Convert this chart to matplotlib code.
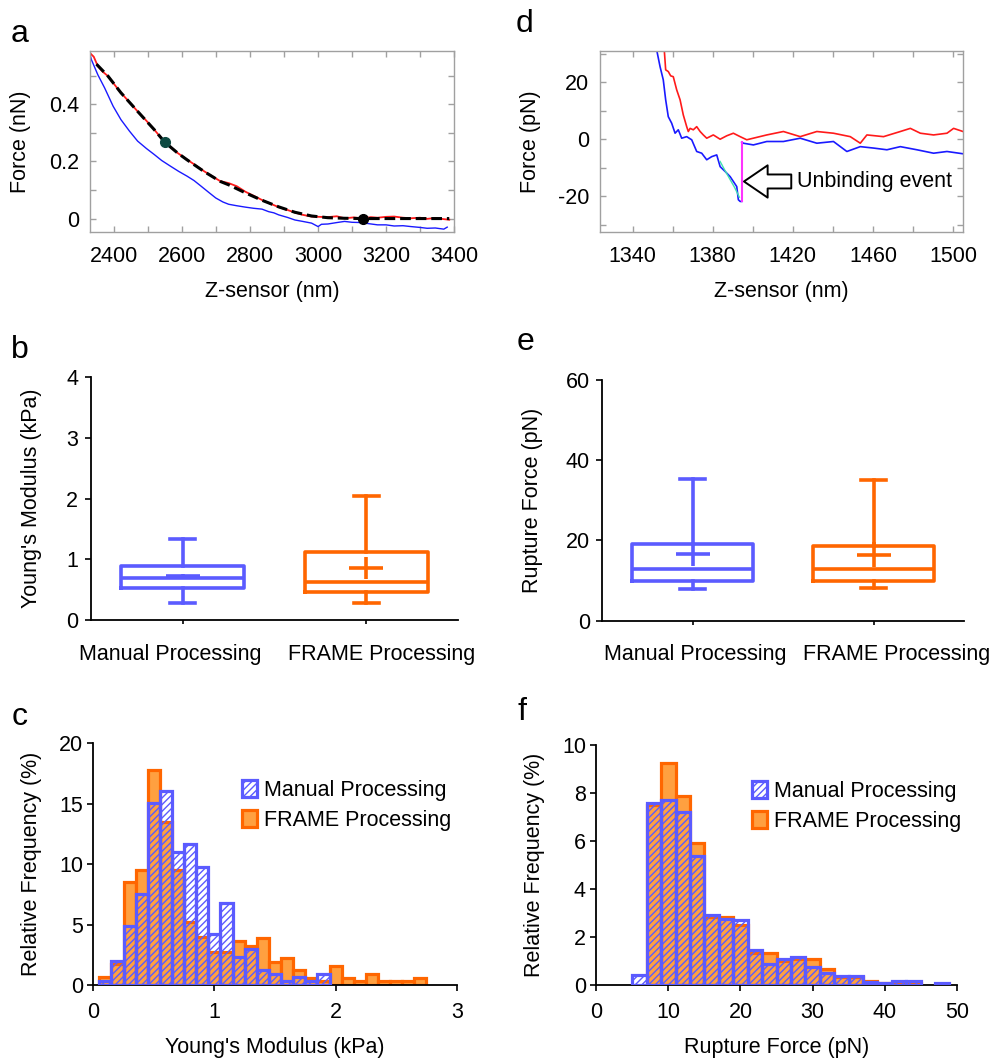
import numpy as np
import matplotlib
matplotlib.use('Agg')
import matplotlib.pyplot as plt
import matplotlib.transforms as mtransforms
from matplotlib.ticker import FixedLocator, MultipleLocator, FuncFormatter

plt.rcParams['font.family'] = ['Liberation Sans', 'DejaVu Sans']
plt.rcParams['font.size'] = 15.5
plt.rcParams['axes.unicode_minus'] = False
plt.rcParams['hatch.linewidth'] = 1.0

FS = 15.5

# ---------------- data ----------------
# panel a: force curve (nN) vs Z-sensor (nm)
red_a_x = [2329, 2333, 2340, 2352, 2365, 2382, 2400, 2420, 2445, 2469, 2495, 2518, 2549, 2570, 2586,
           2615, 2640, 2664, 2690, 2712, 2737, 2761, 2786, 2810, 2835, 2860, 2884, 2910, 2932, 2955,
           2981, 3005, 3029, 3055, 3078, 3105, 3132, 3155, 3175, 3200, 3224, 3250, 3273, 3300, 3321,
           3345, 3370, 3386]
red_a_y = [0.580, 0.574, 0.566, 0.533, 0.515, 0.498, 0.470, 0.440, 0.407, 0.375, 0.342, 0.311, 0.267, 0.246,
           0.230, 0.206, 0.186, 0.166, 0.147, 0.131, 0.124, 0.113, 0.094, 0.080, 0.065, 0.052, 0.040, 0.030,
           0.021, 0.013, 0.007, 0.006, 0.005, 0.008, 0.001, 0.004, 0.000, 0.005, 0.003, 0.006, 0.007, 0.003,
           0.001, 0.003, -0.001, 0.002, -0.002, -0.004]
blue_a_x = [2329, 2333, 2352, 2372, 2397, 2420, 2445, 2469, 2495, 2518, 2540, 2566, 2590, 2615, 2635,
            2654, 2680, 2699, 2720, 2737, 2760, 2786, 2810, 2835, 2855, 2870, 2884, 2910, 2932, 2955,
            2981, 3000, 3010, 3029, 3055, 3078, 3100, 3127, 3150, 3175, 3200, 3224, 3250, 3273, 3300,
            3321, 3345, 3370, 3380]
blue_a_y = [0.575, 0.556, 0.503, 0.457, 0.393, 0.346, 0.306, 0.271, 0.245, 0.224, 0.203, 0.183, 0.165, 0.148,
            0.133, 0.115, 0.090, 0.072, 0.058, 0.050, 0.045, 0.040, 0.036, 0.033, 0.024, 0.020, 0.013, 0.004,
            -0.005, -0.010, -0.016, -0.028, -0.020, -0.019, -0.014, -0.010, -0.013, -0.014, -0.018, -0.022,
            -0.022, -0.026, -0.025, -0.028, -0.031, -0.034, -0.033, -0.037, -0.030]
fit_a_x = [2348, 2382, 2420, 2469, 2518, 2549, 2586, 2615, 2664, 2712, 2737, 2786, 2835, 2884, 2932,
           2981, 3029, 3078, 3132, 3200, 3300, 3386]
fit_a_y = [0.540, 0.498, 0.440, 0.375, 0.311, 0.267, 0.230, 0.205, 0.165, 0.130, 0.118, 0.090, 0.064,
           0.041, 0.022, 0.009, 0.003, 0.001, 0.0, 0.0, 0.0, 0.0]
contact_pt = (2549, 0.267)
end_pt = (3132, 0.0)

# panel d: force curve (pN) vs Z-sensor (nm)
red_d_x = [1355.8, 1356.5, 1357.8, 1359.0, 1360.3, 1362.0, 1363.7, 1365.3, 1367.0, 1367.8, 1368.7, 1370.3,
           1372.0, 1373.7, 1375.3, 1377.0, 1380.3, 1383.7, 1387.0, 1390.3, 1393.7, 1397.0, 1407.0, 1415.3,
           1423.7, 1432.0, 1440.3, 1448.7, 1453.7, 1457.0, 1465.3, 1473.7, 1478.7, 1483.7, 1490.3, 1497.0,
           1500.3, 1505.0]
red_d_y = [31.3, 24.3, 23.7, 22.2, 21.9, 17.3, 13.8, 8.5, 4.4, 2.7, 3.8, 3.3,
           4.4, 2.7, 1.5, 0.35, 1.5, 0.0, 1.2, 2.1, 0.9, -0.2, 1.5, 2.7,
           0.9, 2.7, 2.1, 0.9, -1.4, 1.5, 0.9, 2.7, 3.8, 2.1, 1.5, 2.1,
           3.8, 2.7]
blue_d_x = [1352.0, 1353.7, 1355.3, 1356.5, 1357.8, 1359.5, 1361.2, 1362.8, 1364.5, 1367.0, 1369.5, 1372.0,
            1374.5, 1377.0, 1379.5, 1382.0, 1383.7, 1386.2, 1388.7, 1390.3, 1392.0, 1392.8, 1393.7, 1394.5]
blue_d_y = [31.3, 25.4, 20.8, 13.8, 7.9, 5.6, 2.1, 3.3, 0.35, 0.9, -0.2, -4.3,
            -4.9, -7.2, -6.1, -5.5, -9.6, -11.3, -13.1, -14.8, -16.6, -21.2, -21.8, -21.8]
blue_d2_x = [1394.5, 1395.3, 1400.3, 1407.0, 1415.3, 1423.7, 1432.0, 1440.3, 1447.0, 1453.7, 1460.3, 1467.0,
             1473.7, 1482.0, 1490.3, 1497.0, 1505.0]
blue_d2_y = [-1.0, -1.4, -2.0, -0.8, -0.8, 0.35, -1.4, -0.8, -4.3, -2.6, -3.1, -3.7,
             -2.6, -3.7, -4.9, -4.3, -5.1]
fit_d_x = [1383.7, 1386.0, 1388.5, 1391.0, 1393.3]
fit_d_y = [-7.8, -10.8, -13.9, -17.0, -20.3]
jump_d_x = [1394.5, 1394.5]
jump_d_y = [-21.8, -1.0]

# panels b, e: box statistics
groups = ['Manual Processing', 'FRAME Processing']
ym_whislo = [0.275, 0.275]
ym_q1 = [0.52, 0.467]
ym_med = [0.687, 0.632]
ym_q3 = [0.895, 1.126]
ym_whishi = [1.335, 2.044]
ym_mean = [0.725, 0.852]
ym_se = [0.035, 0.18]

rf_whislo = [8.0, 8.2]
rf_q1 = [9.9, 9.9]
rf_med = [13.0, 13.0]
rf_q3 = [19.1, 18.6]
rf_whishi = [35.3, 35.1]
rf_mean = [16.6, 16.5]
rf_se = [2.9, 3.0]

# panel c: Young's modulus histogram (%), bin centres (kPa)
c_centers = [0.1, 0.2, 0.3, 0.4, 0.5, 0.6, 0.7, 0.8, 0.9, 1.0, 1.1, 1.2, 1.3, 1.4, 1.5, 1.6, 1.7, 1.8,
             1.9, 2.0, 2.1, 2.2, 2.3, 2.4, 2.5, 2.6, 2.7]
c_manual = [0.35, 2.0, 4.9, 7.5, 15.1, 16.05, 11.0, 11.7, 9.8, 4.2, 6.8, 2.3, 2.95, 1.25, 0.95, 0.35, 0.64,
            0.3, 0.9, 0, 0, 0, 0, 0, 0, 0, 0]
c_frame = [0.7, 1.7, 8.55, 9.5, 17.75, 13.5, 9.55, 5.25, 4.0, 2.7, 2.7, 3.6, 3.25, 3.85, 1.9, 2.25, 1.25,
           0.6, 0.3, 1.55, 0.6, 0.3, 0.9, 0.3, 0.3, 0.3, 0.6]

# panel f: rupture force histogram (%), bin centres (pN)
f_centers = [6, 8, 10, 12, 14, 16, 18, 20, 22, 24, 26, 28, 30, 32, 34, 36, 38, 40, 42, 44, 46, 48]
f_manual = [0.4, 7.6, 7.7, 7.22, 5.39, 2.92, 2.74, 2.71, 1.46, 0.88, 1.07, 1.15, 0.76, 0.5, 0.38, 0.38,
            0.11, 0.07, 0.18, 0.18, 0, 0.07]
f_frame = [0, 7.52, 9.26, 7.88, 5.93, 2.85, 2.82, 2.5, 1.32, 1.35, 1.01, 1.07, 1.07, 0.68, 0.35, 0.35,
           0.18, 0.07, 0.1, 0.1, 0, 0]

# ---------------- style ----------------
BLUE = '#5B5BFF'
ORANGE = '#FF6600'
ORANGE_FILL = '#FFA040'
GRAY = '#a0a0a0'

W, H = 992, 1059
fig = plt.figure(figsize=(W / 100, H / 100), dpi=100)


def ax_px(l, t, r, b):
    return fig.add_axes([l / W, 1 - b / H, (r - l) / W, (b - t) / H])


gfmt = FuncFormatter(lambda v, p: f'{v:g}')


def style_frame(ax):
    for s in ax.spines.values():
        s.set_color(GRAY)
        s.set_linewidth(1.0)
    ax.tick_params(which='both', direction='in', top=True, right=True, color=GRAY,
                   length=4, width=1, labelsize=FS)
    ax.tick_params(axis='x', pad=10)
    ax.tick_params(axis='y', pad=8)


def style_open(ax):
    for s in ['top', 'right']:
        ax.spines[s].set_visible(False)
    for s in ['left', 'bottom']:
        ax.spines[s].set_linewidth(1.3)
        ax.spines[s].set_color('black')
    ax.tick_params(direction='out', length=4, width=1.2, labelsize=FS)


# ---------------- panel a ----------------
ax = ax_px(90, 51, 454, 232)
style_frame(ax)
ax.plot(blue_a_x, blue_a_y, color='#1a1aff', lw=1.0)
ax.plot(red_a_x, red_a_y, color='#ff1a1a', lw=1.3)
ax.plot(fit_a_x, fit_a_y, color='black', lw=2.2, dashes=(3.5, 1.6))
ax.plot(*contact_pt, 'o', color='#0d4a42', ms=7)
ax.plot(*end_pt, 'o', color='black', ms=7)
ax.set_xlim(2329, 3400)
ax.set_ylim(-0.047, 0.586)
ax.xaxis.set_major_locator(FixedLocator([2400, 2600, 2800, 3000, 3200, 3400]))
ax.xaxis.set_minor_locator(MultipleLocator(100))
ax.yaxis.set_major_locator(FixedLocator([0, 0.2, 0.4]))
ax.yaxis.set_minor_locator(MultipleLocator(0.1))
ax.yaxis.set_major_formatter(gfmt)
ax.set_xlabel('Z-sensor (nm)', fontsize=FS, labelpad=10)
ax.set_ylabel('Force (nN)', fontsize=FS, labelpad=13)

# ---------------- panel d ----------------
ax = ax_px(600, 51, 963, 232)
style_frame(ax)
ax.plot(red_d_x, red_d_y, color='#ff1a1a', lw=1.2)
ax.plot(blue_d_x, blue_d_y, color='#1a1aff', lw=1.2)
ax.plot(blue_d2_x, blue_d2_y, color='#1a1aff', lw=1.2)
ax.plot(fit_d_x, fit_d_y, color='#40e0b0', lw=1.0)
ax.plot(jump_d_x, jump_d_y, color='#ff33ff', lw=1.5)
ax.set_xlim(1323.7, 1505)
ax.set_ylim(-32.5, 30.9)
ax.xaxis.set_major_locator(FixedLocator([1340, 1380, 1420, 1460, 1500]))
ax.xaxis.set_minor_locator(FixedLocator(list(range(1340, 1501, 20))))
ax.yaxis.set_major_locator(FixedLocator([-20, 0, 20]))
ax.yaxis.set_minor_locator(FixedLocator([-30, -10, 10, 30]))
ax.set_xlabel('Z-sensor (nm)', fontsize=FS, labelpad=10)
ax.set_ylabel('Force (pN)', fontsize=FS, labelpad=12)
ax.annotate('Unbinding event', xy=(1395.6, -14.8), xytext=(1422.0, -14.8), va='center', ha='left',
            fontsize=FS,
            arrowprops=dict(arrowstyle='simple,head_length=1.1,head_width=1.5,tail_width=0.65',
                            fc='white', ec='black', lw=1.4, shrinkA=2, shrinkB=0))


# ---------------- panels b, e ----------------
def box_panel(ax, whislo, q1, med, q3, whishi, mean, se, ylim, yticks, ylabel, lpad, lab_dx):
    style_open(ax)
    colors = [BLUE, ORANGE]
    for i in range(2):
        st = [dict(whislo=whislo[i], q1=q1[i], med=med[i], q3=q3[i], whishi=whishi[i], fliers=[])]
        c = colors[i]
        lw = 2.6
        ax.bxp(st, positions=[i + 1], widths=0.67, capwidths=0.14, showfliers=False,
               boxprops=dict(color=c, lw=lw), medianprops=dict(color=c, lw=lw),
               whiskerprops=dict(color=c, lw=lw), capprops=dict(color=c, lw=lw),
               manage_ticks=False)
        ax.errorbar([i + 1], [mean[i]], yerr=[se[i]], fmt='_', color=c, ms=24, mew=lw,
                    elinewidth=lw, capsize=0)
    ax.set_xlim(0.5, 2.5)
    ax.set_ylim(*ylim)
    ax.set_yticks(yticks)
    ax.set_xticks([1, 2])
    ax.set_xticklabels(groups)
    ax.tick_params(axis='x', length=3, pad=14)
    ax.tick_params(axis='y', pad=5)
    for lab, dx in zip(ax.get_xticklabels(), lab_dx):
        lab.set_transform(lab.get_transform() +
                          mtransforms.ScaledTranslation(dx / 100, 0, fig.dpi_scale_trans))
    ax.set_ylabel(ylabel, fontsize=FS, labelpad=lpad)


ax = ax_px(90.7, 377.3, 458.3, 620)
box_panel(ax, ym_whislo, ym_q1, ym_med, ym_q3, ym_whishi, ym_mean, ym_se, (0, 4), [0, 1, 2, 3, 4],
          "Young's Modulus (kPa)", 17, (-12.5, 15))

ax = ax_px(602.3, 380, 964.3, 620.7)
box_panel(ax, rf_whislo, rf_q1, rf_med, rf_q3, rf_whishi, rf_mean, rf_se, (0, 60), [0, 20, 40, 60],
          'Rupture Force (pN)', 16, (2, 23))


# ---------------- panels c, f ----------------
def hist_panel(ax, centers, manual, frame, width, xlim, xticks, ylim, yticks, xlabel, legx):
    style_open(ax)
    centers = np.asarray(centers, float)
    manual = np.asarray(manual, float)
    frame = np.asarray(frame, float)
    mf = frame > 0
    mm = manual > 0
    ax.bar(centers[mf], frame[mf], width=width, color=ORANGE_FILL, edgecolor=ORANGE, lw=2.3,
           label='FRAME Processing', zorder=2)
    ax.bar(centers[mm], manual[mm], width=width, facecolor='none', edgecolor=BLUE, hatch='/////',
           lw=2.3, label='Manual Processing', zorder=3)
    ax.set_xlim(*xlim)
    ax.set_ylim(*ylim)
    ax.set_xticks(xticks)
    ax.set_yticks(yticks)
    ax.tick_params(axis='x', pad=8)
    ax.set_xlabel(xlabel, fontsize=FS, labelpad=10)
    ax.set_ylabel('Relative Frequency (%)', fontsize=FS, labelpad=12)
    h, l = ax.get_legend_handles_labels()
    ax.legend(h[::-1], l[::-1], loc='upper left', bbox_to_anchor=(legx, 0.885), frameon=False,
              fontsize=FS, handlelength=0.72, handleheight=0.85, handletextpad=0.3,
              labelspacing=0.42, borderaxespad=0)


ax = ax_px(93.3, 743.3, 456.7, 985)
hist_panel(ax, c_centers, c_manual, c_frame, 0.1, (0, 3), [0, 1, 2, 3], (0, 20), [0, 5, 10, 15, 20],
           "Young's Modulus (kPa)", 0.385)

ax = ax_px(596.3, 745, 956.7, 985)
hist_panel(ax, f_centers, f_manual, f_frame, 2, (0, 50), [0, 10, 20, 30, 40, 50], (0, 10),
           [0, 2, 4, 6, 8, 10], 'Rupture Force (pN)', 0.408)

# ---------------- panel letters ----------------
for letter, x, y in [('a', 11, 42), ('d', 516, 32), ('b', 11, 358), ('e', 517, 350),
                     ('c', 12, 725), ('f', 517, 720)]:
    fig.text(x / W, 1 - y / H, letter, fontsize=23, ha='left', va='baseline')

fig.savefig('out.png', dpi=100)
